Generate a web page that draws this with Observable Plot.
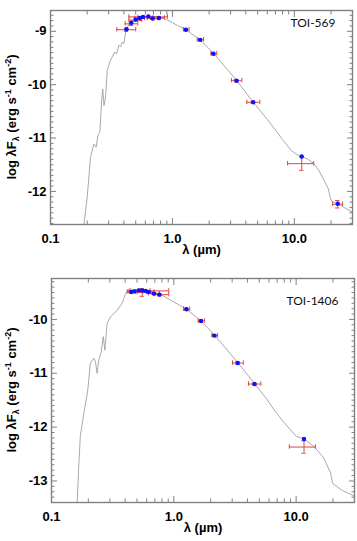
<!DOCTYPE html>
<html><head><meta charset="utf-8">
<script src="https://cdn.jsdelivr.net/npm/d3@7"></script>
<script src="https://cdn.jsdelivr.net/npm/@observablehq/plot@0.6"></script>
<style>
body{margin:0;background:#fff;}
#chart{width:357px;}
#chart svg{display:block;}
</style></head><body><div id="chart"></div>
<script>
// ---------- shared axis values ----------
const xMajorTicks = [0.1, 1, 10];
const xMajorLabels = ["0.1", "1.0", "10.0"];
const xMinorTicks = [0.2, 0.3, 0.4, 0.5, 0.6, 0.7, 0.8, 0.9, 2, 3, 4, 5, 6, 7, 8, 9, 20];
const xDomain = [0.1, 30];

// ---------- TOI-569 ----------
const toi569Name = "TOI-569";
const toi569YDomain = [-12.62, -8.61];
const toi569YMajor = [-12, -11, -10, -9];
const toi569ModelLam = [0.188, 0.200, 0.213, 0.227, 0.237, 0.245, 0.254, 0.263, 0.268, 0.275, 0.283, 0.292, 0.311, 0.336, 0.348, 0.364, 0.376, 0.388, 0.400, 0.413, 0.432, 0.46, 0.50, 0.55, 0.62, 0.70, 0.80, 0.90, 1.00, 1.10, 1.29, 1.69, 2.17, 3.36, 4.6, 6.0, 7.0, 8.0, 9.5, 10.5, 11.5, 13.0, 14.5, 16.0, 17.6, 19.0, 19.6, 20.2, 22.6, 26, 30];
const toi569ModelLogF = [-12.62, -12.11, -11.36, -11.11, -11.17, -10.95, -10.89, -10.29, -10.08, -10.39, -10.23, -9.73, -9.54, -9.39, -9.42, -9.26, -9.29, -9.20, -9.23, -9.01, -8.89, -8.83, -8.77, -8.74, -8.72, -8.72, -8.74, -8.78, -8.84, -8.89, -8.97, -9.16, -9.41, -9.92, -10.33, -10.65, -10.85, -11.03, -11.24, -11.31, -11.34, -11.40, -11.48, -11.62, -11.80, -11.95, -12.10, -12.18, -12.23, -12.31, -12.39];
const toi569Lam = [0.42, 0.46, 0.50, 0.54, 0.574, 0.635, 0.69, 0.776, 1.29, 1.69, 2.17, 3.36, 4.6, 11.5, 22.7];
const toi569LamLo = [0.35, 0.41, 0.44, 0.49, 0.52, 0.44, 0.62, 0.69, 1.23, 1.60, 2.07, 3.05, 4.08, 8.8, 20.6];
const toi569LamHi = [0.50, 0.52, 0.56, 0.59, 0.63, 0.91, 0.76, 0.86, 1.37, 1.80, 2.31, 3.71, 5.21, 14.4, 24.9];
const toi569ObsLogF = [-8.97, -8.86, -8.79, -8.76, -8.74, -8.73, -8.76, -8.75, -8.97, -9.16, -9.42, -9.925, -10.33, -11.48, -12.24];
const toi569ObsErr = [0.03, 0.03, 0.02, 0.03, 0.02, 0.01, 0.02, 0.02, 0.02, 0.02, 0.02, 0.02, 0.02, 0.125, 0.07];
const toi569FitLogF = [-8.96, -8.84, -8.78, -8.75, -8.73, -8.72, -8.76, -8.75, -8.97, -9.16, -9.42, -9.925, -10.33, -11.345, -12.23];

// ---------- TOI-1406 ----------
const toi1406Name = "TOI-1406";
const toi1406YDomain = [-13.40, -9.24];
const toi1406YMajor = [-13, -12, -11, -10];
const toi1406ModelLam = [0.162, 0.167, 0.172, 0.184, 0.198, 0.208, 0.222, 0.229, 0.236, 0.244, 0.255, 0.265, 0.273, 0.285, 0.304, 0.323, 0.345, 0.367, 0.383, 0.390, 0.404, 0.416, 0.45, 0.50, 0.55, 0.62, 0.70, 0.80, 0.94, 1.10, 1.27, 1.67, 2.15, 3.33, 4.57, 5.8, 6.6, 8.0, 10.0, 11.6, 14.0, 16.8, 19.1, 19.9, 24, 30];
const toi1406ModelLogF = [-13.41, -12.73, -12.17, -11.74, -11.31, -10.81, -10.72, -10.79, -11.00, -10.75, -10.60, -10.32, -10.57, -10.07, -9.95, -9.89, -9.83, -9.74, -9.67, -9.61, -9.52, -9.47, -9.46, -9.45, -9.45, -9.47, -9.50, -9.55, -9.64, -9.73, -9.81, -10.03, -10.29, -10.80, -11.19, -11.49, -11.68, -11.92, -12.17, -12.22, -12.36, -12.57, -12.85, -13.05, -13.18, -13.28];
const toi1406Lam = [0.449, 0.476, 0.517, 0.552, 0.588, 0.624, 0.688, 0.763, 1.27, 1.67, 2.15, 3.33, 4.57, 11.6];
const toi1406LamLo = [0.416, 0.43, 0.44, 0.50, 0.53, 0.56, 0.62, 0.69, 1.20, 1.58, 2.05, 3.02, 4.08, 8.8];
const toi1406LamHi = [0.485, 0.52, 0.91, 0.60, 0.64, 0.69, 0.76, 0.91, 1.35, 1.78, 2.28, 3.70, 5.15, 14.4];
const toi1406ObsLogF = [-9.49, -9.48, -9.47, -9.50, -9.47, -9.49, -9.52, -9.54, -9.81, -10.03, -10.30, -10.81, -11.20, -12.37];
const toi1406ObsErr = [0.02, 0.02, 0.01, 0.07, 0.02, 0.02, 0.02, 0.02, 0.02, 0.02, 0.02, 0.02, 0.02, 0.115];
const toi1406FitLogF = [-9.49, -9.48, -9.46, -9.46, -9.47, -9.49, -9.52, -9.54, -9.81, -10.03, -10.30, -10.81, -11.20, -12.22];

const FONT = "'Liberation Sans', Arial, sans-serif";
const AXIS_GRAY = "#808080";
const ERR_RED = "#e2443e";
const DOT_BLUE = "#0a14ff";

function panel(cfg) {
  const model = cfg.modelLam.map((l, i) => ({lam: l, f: cfg.modelLogF[i]}));
  const pts = cfg.lam.map((l, i) => ({
    lam: l, lo: cfg.lo[i], hi: cfg.hi[i], obs: cfg.obs[i], err: cfg.err[i], fit: cfg.fit[i]
  }));
  const [y0, y1] = cfg.yDomain;
  const yMinor = d3.range(Math.ceil(y0 * 10), Math.floor(y1 * 10) + 1)
    .map(v => v / 10).filter(v => Math.abs(v - Math.round(v)) > 1e-6);

  const tickAxis = (fn, data, anchor, size) =>
    fn(data, {anchor, tickSize: -size, tickFormat: () => "", stroke: AXIS_GRAY, strokeWidth: 1});

  const plot = Plot.plot({
    width: 357,
    height: cfg.height,
    marginLeft: cfg.marginLeft,
    marginRight: cfg.marginRight,
    marginTop: cfg.marginTop,
    marginBottom: cfg.marginBottom,
    style: {fontFamily: FONT, fontSize: "13px", fontWeight: "bold", color: "#000", background: "#fff"},
    x: {type: "log", domain: xDomain},
    y: {domain: cfg.yDomain},
    marks: [
      Plot.line(model, {x: "lam", y: "f", stroke: "#9a9a9a", strokeWidth: 0.85, clip: true}),
      // horizontal (band width) error bars
      Plot.ruleY(pts, {y: "obs", x1: "lo", x2: "hi", stroke: ERR_RED, strokeWidth: 1}),
      Plot.ruleX(pts, {x: "lo", y1: "obs", y2: "obs", insetTop: -2.2, insetBottom: -2.2, stroke: ERR_RED, strokeWidth: 1}),
      Plot.ruleX(pts, {x: "hi", y1: "obs", y2: "obs", insetTop: -2.2, insetBottom: -2.2, stroke: ERR_RED, strokeWidth: 1}),
      // vertical (flux) error bars
      Plot.ruleX(pts, {x: "lam", y1: d => d.obs - d.err, y2: d => d.obs + d.err, stroke: ERR_RED, strokeWidth: 1}),
      Plot.ruleY(pts, {y: d => d.obs - d.err, x1: "lam", x2: "lam", insetLeft: -2.2, insetRight: -2.2, stroke: ERR_RED, strokeWidth: 1}),
      Plot.ruleY(pts, {y: d => d.obs + d.err, x1: "lam", x2: "lam", insetLeft: -2.2, insetRight: -2.2, stroke: ERR_RED, strokeWidth: 1}),
      // model band fluxes
      Plot.dot(pts, {x: "lam", y: "fit", r: 2.2, fill: DOT_BLUE, stroke: "none"}),
      // frame
      Plot.frame({stroke: AXIS_GRAY, strokeWidth: 1.4}),
      // x axis ticks (inward, bottom & top)
      tickAxis(Plot.axisX, xMajorTicks, "bottom", 6),
      tickAxis(Plot.axisX, xMinorTicks, "bottom", 3.5),
      tickAxis(Plot.axisX, xMajorTicks, "top", 6),
      tickAxis(Plot.axisX, xMinorTicks, "top", 3.5),
      // y axis ticks (inward, left & right)
      tickAxis(Plot.axisY, cfg.yMajor, "left", 6),
      tickAxis(Plot.axisY, yMinor, "left", 3.5),
      tickAxis(Plot.axisY, cfg.yMajor, "right", 6),
      tickAxis(Plot.axisY, yMinor, "right", 3.5),
      // labels
      Plot.axisX(xMajorTicks, {anchor: "bottom", tickSize: 0, tickPadding: 9,
        tickFormat: d => xMajorLabels[xMajorTicks.indexOf(d)], fill: "#000", label: null}),
      Plot.axisY(cfg.yMajor, {anchor: "left", tickSize: 0, tickPadding: 4,
        tickFormat: d => String(d), fill: "#000", label: null}),
      Plot.text(["λ (µm)"], {frameAnchor: "bottom", dy: 29, fill: "#000"}),
      Plot.text([cfg.name], {frameAnchor: "top-right", dx: cfg.nameDx, dy: cfg.nameDy, textAnchor: "end",
        fontWeight: "normal", fontSize: 12, fontFamily: "Lato, 'Open Sans', sans-serif", fill: "#111"})
    ]
  });

  // y-axis title with subscript / superscripts
  const svg = d3.select(plot);
  const cy = cfg.marginTop + (cfg.height - cfg.marginTop - cfg.marginBottom) / 2;
  const t = svg.append("text")
    .attr("transform", `translate(16,${cy}) rotate(-90)`)
    .attr("text-anchor", "middle")
    .attr("fill", "#000")
    .style("font", `bold 13px ${FONT}`);
  t.append("tspan").text("log λF");
  t.append("tspan").attr("font-size", "9px").attr("dy", "3").text("λ");
  t.append("tspan").attr("dy", "-3").text(" (erg s");
  t.append("tspan").attr("font-size", "9px").attr("dy", "-5").text("-1");
  t.append("tspan").attr("dy", "5").text(" cm");
  t.append("tspan").attr("font-size", "9px").attr("dy", "-5").text("-2");
  t.append("tspan").attr("dy", "5").text(")");
  return plot;
}

const chart = document.getElementById("chart");
chart.append(panel({
  name: toi569Name, yDomain: toi569YDomain, yMajor: toi569YMajor,
  modelLam: toi569ModelLam, modelLogF: toi569ModelLogF,
  lam: toi569Lam, lo: toi569LamLo, hi: toi569LamHi, obs: toi569ObsLogF, err: toi569ObsErr, fit: toi569FitLogF,
  height: 268, marginTop: 10, marginBottom: 44, marginLeft: 50, marginRight: 5,
  nameDx: -17, nameDy: 8
}));
chart.append(panel({
  name: toi1406Name, yDomain: toi1406YDomain, yMajor: toi1406YMajor,
  modelLam: toi1406ModelLam, modelLogF: toi1406ModelLogF,
  lam: toi1406Lam, lo: toi1406LamLo, hi: toi1406LamHi, obs: toi1406ObsLogF, err: toi1406ObsErr, fit: toi1406FitLogF,
  height: 273, marginTop: 10, marginBottom: 39, marginLeft: 51, marginRight: 3,
  nameDx: -16, nameDy: 18
}));
</script></body></html>
